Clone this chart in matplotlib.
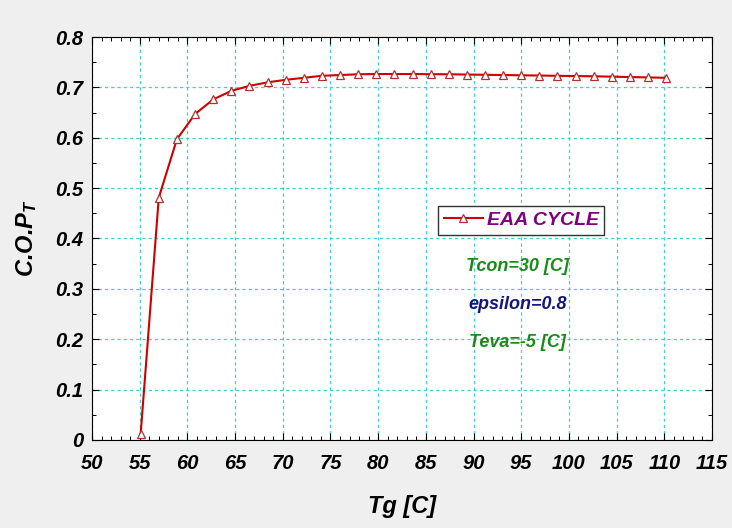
import matplotlib
matplotlib.use("Agg")
import matplotlib.pyplot as plt
from matplotlib.ticker import MultipleLocator

plt.rcParams['font.family'] = ['Liberation Sans', 'DejaVu Sans']
plt.rcParams['mathtext.fontset'] = 'custom'
plt.rcParams['mathtext.it'] = 'Liberation Sans:italic:bold'
plt.rcParams['mathtext.rm'] = 'Liberation Sans:italic:bold'

# generator temperature [C]
tg = [55.1, 57.0, 58.9, 60.8, 62.7, 64.6, 66.5, 68.4, 70.3, 72.2,
      74.1, 76.0, 77.9, 79.8, 81.7, 83.6, 85.5, 87.4, 89.3, 91.2,
      93.1, 95.0, 96.9, 98.8, 100.7, 102.6, 104.5, 106.4, 108.3, 110.2]
# total coefficient of performance
cop = [0.012, 0.481, 0.597, 0.647, 0.676, 0.693, 0.703, 0.710, 0.715, 0.719,
       0.723, 0.7245, 0.726, 0.7265, 0.7265, 0.7265, 0.7262, 0.726, 0.7255, 0.725,
       0.7245, 0.724, 0.7235, 0.723, 0.7225, 0.722, 0.7213, 0.7205, 0.7198, 0.719]

notes = [("Tcon=30 [C]", "#1a8a1a"), ("epsilon=0.8", "#14147a"), ("Teva=-5 [C]", "#1a8a1a")]

fig = plt.figure(figsize=(7.32, 5.28), dpi=100, facecolor="#efefef")
ax = fig.add_axes([0.1257, 0.1667, 0.847, 0.7632])

ax.plot(tg, cop, color="#cc0000", lw=1.5, marker="^", ms=6,
        mfc="white", mec="#b03030", mew=0.9, label="EAA CYCLE")

ax.set_xlim(50, 115)
ax.set_ylim(0, 0.8)
ax.xaxis.set_major_locator(MultipleLocator(5))
ax.xaxis.set_minor_locator(MultipleLocator(1))
ax.yaxis.set_major_locator(MultipleLocator(0.1))
ax.yaxis.set_minor_locator(MultipleLocator(0.05))
ax.set_yticks([0, 0.1, 0.2, 0.3, 0.4, 0.5, 0.6, 0.7, 0.8],
              ["0", "0.1", "0.2", "0.3", "0.4", "0.5", "0.6", "0.7", "0.8"])
ax.grid(True, which="major", color="#3fcfcf", ls=(0, (2.5, 2.5)), lw=0.9)
ax.tick_params(which="both", direction="in", top=True, right=True)
ax.tick_params(which="major", length=5, width=0.8, labelsize=14.5, pad=6)
ax.tick_params(axis="x", which="major", pad=10)
ax.tick_params(which="minor", length=3, width=0.7)
for lab in ax.get_xticklabels() + ax.get_yticklabels():
    lab.set_fontweight("bold")
    lab.set_fontstyle("italic")

ax.set_xlabel("Tg [C]", fontsize=17, fontweight="bold", fontstyle="italic", labelpad=16)
ax.set_ylabel("C.O.P$_{T}$", fontsize=17, fontweight="bold", fontstyle="italic", labelpad=12)

leg = ax.legend(loc="center", bbox_to_anchor=(0.712, 0.583), bbox_transform=fig.transFigure,
                prop={"size": 14, "weight": "bold", "style": "italic"},
                handlelength=2.0, handletextpad=0.2, borderpad=0.3,
                fancybox=False, framealpha=1, edgecolor="#333333")
leg.get_texts()[0].set_color("#800080")

for i, (txt, col) in enumerate(notes):
    fig.text(0.707, 0.495 - i * 0.072, txt, color=col, fontsize=13,
             fontweight="bold", fontstyle="italic", ha="center", va="center")

fig.savefig("out.png", dpi=100, facecolor=fig.get_facecolor())
